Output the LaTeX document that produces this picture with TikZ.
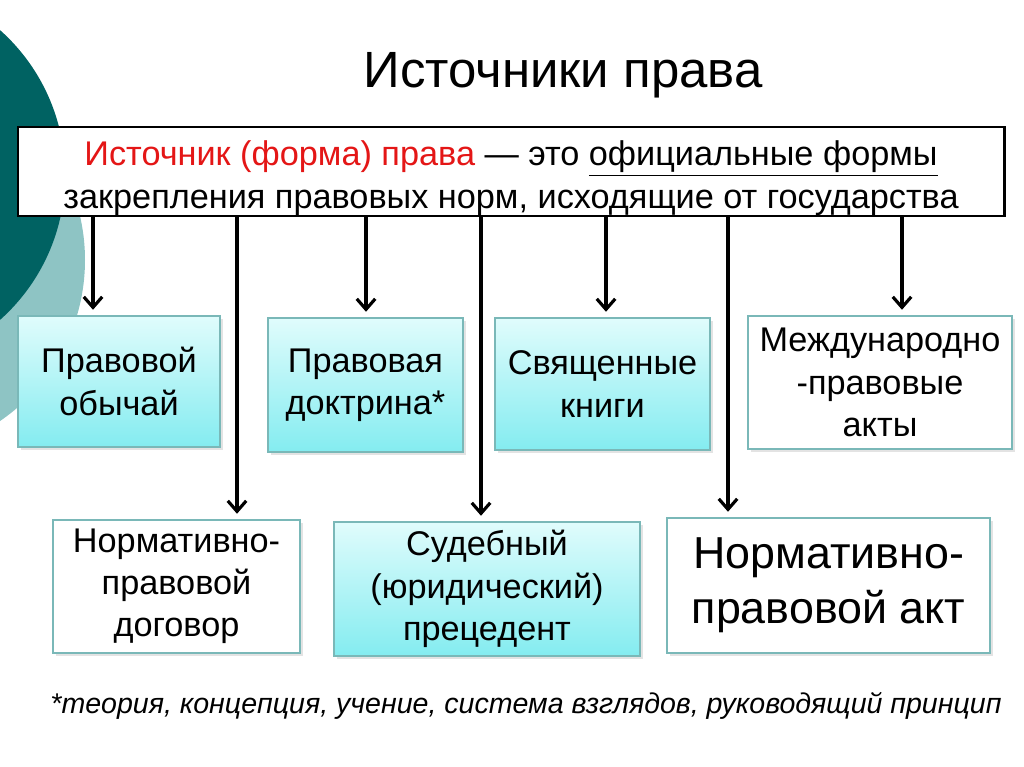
\documentclass[tikz,border=0pt]{standalone}
\usepackage{fontspec}
\setmainfont{Liberation Sans}
\usetikzlibrary{positioning,arrows.meta,shadows}
\definecolor{darkTeal}{RGB}{0,98,98}
\definecolor{lightTeal}{RGB}{142,196,196}
\definecolor{frameTeal}{RGB}{122,184,184}
\definecolor{cyanTop}{RGB}{224,252,252}
\definecolor{cyanBottom}{RGB}{132,236,240}
\definecolor{defRed}{RGB}{228,22,22}
\tikzstyle{slide} = [x = 0.02cm, y = -0.02cm]
\tikzstyle{sourceBox} = [draw=frameTeal, line width=1.1pt, align=center, inner sep=0pt,
  font=\fontsize{19.5}{24}\selectfont,
  drop shadow={opacity=0.22, shadow xshift=1.5pt, shadow yshift=-1.5pt}]
\tikzstyle{cyanBox} = [sourceBox, top color=cyanTop, bottom color=cyanBottom]
\tikzstyle{whiteBox} = [sourceBox, fill=white]
\tikzstyle{defBox} = [draw=black, line width=1.7pt, fill=white]
\tikzstyle{defText} = [align=center, inner sep=0pt, font=\fontsize{19.5}{24.5}\selectfont]
\tikzstyle{arrowLine} = [line width=1.8pt, shorten >=3pt, -{Straight Barb[length=6pt, width=10.5pt]}]
% box from corner (#3,#4) to corner (#5,#6), in pixels
\newcommand{\sourceBox}[7]{\node[#1, minimum width={(#5-#3)*0.02cm}, minimum height={(#6-#4)*0.02cm}] (#2) at ({(#3+#5)/2}, {(#4+#6)/2}) {#7};}

\begin{document}
\begin{tikzpicture}[slide]
  \useasboundingbox (0,0) rectangle (1024,767);
  \begin{scope}
    \clip (0,0) rectangle (1024,767);
    \fill[lightTeal] (-110,260) circle (195);
    \fill[darkTeal] (-129,175) circle (194);
  \end{scope}

  \node[font=\fontsize{29}{34}\selectfont] (title) at (563,75) {Источники права};

  \sourceBox{defBox}{definition}{18}{127}{1004}{216}{}
  \node[defText] (defLines) at ([yshift=-4pt]definition.center) {\textcolor{defRed}{Источник (форма) права} — это \underline{официальные формы}\\закрепления правовых норм, исходящие от государства};

  % upper row
  \sourceBox{cyanBox}{custom}{18}{316}{220}{447}{Правовой\\обычай}
  \sourceBox{cyanBox}{doctrine}{268}{318}{463}{452}{Правовая\\доктрина*}
  \sourceBox{cyanBox}{books}{495}{318}{710}{450}{Священные\\книги}
  \sourceBox{whiteBox}{international}{748}{316}{1012}{449}{Международно\\-правовые\\акты}
  % lower row
  \sourceBox{whiteBox}{treaty}{53}{520}{300}{653}{Нормативно-\\правовой\\договор}
  \sourceBox{cyanBox}{precedent}{334}{522}{640}{656}{Судебный\\(юридический)\\прецедент}
  \sourceBox{whiteBox, font=\fontsize{25.5}{31.5}\selectfont}{act}{667}{518}{990}{653}{Нормативно-\\правовой акт}

  \foreach \xpos/\target in {93/custom, 237/treaty, 366/doctrine, 481/precedent, 606/books, 728/act, 902/international}
    \draw[arrowLine] (\xpos,0 |- definition.south) -- (\xpos,0 |- \target.north);

  \node[font=\fontsize{16.25}{19}\itshape] (note) at (526,706) {*теория, концепция, учение, система взглядов, руководящий принцип};
\end{tikzpicture}
\end{document}
